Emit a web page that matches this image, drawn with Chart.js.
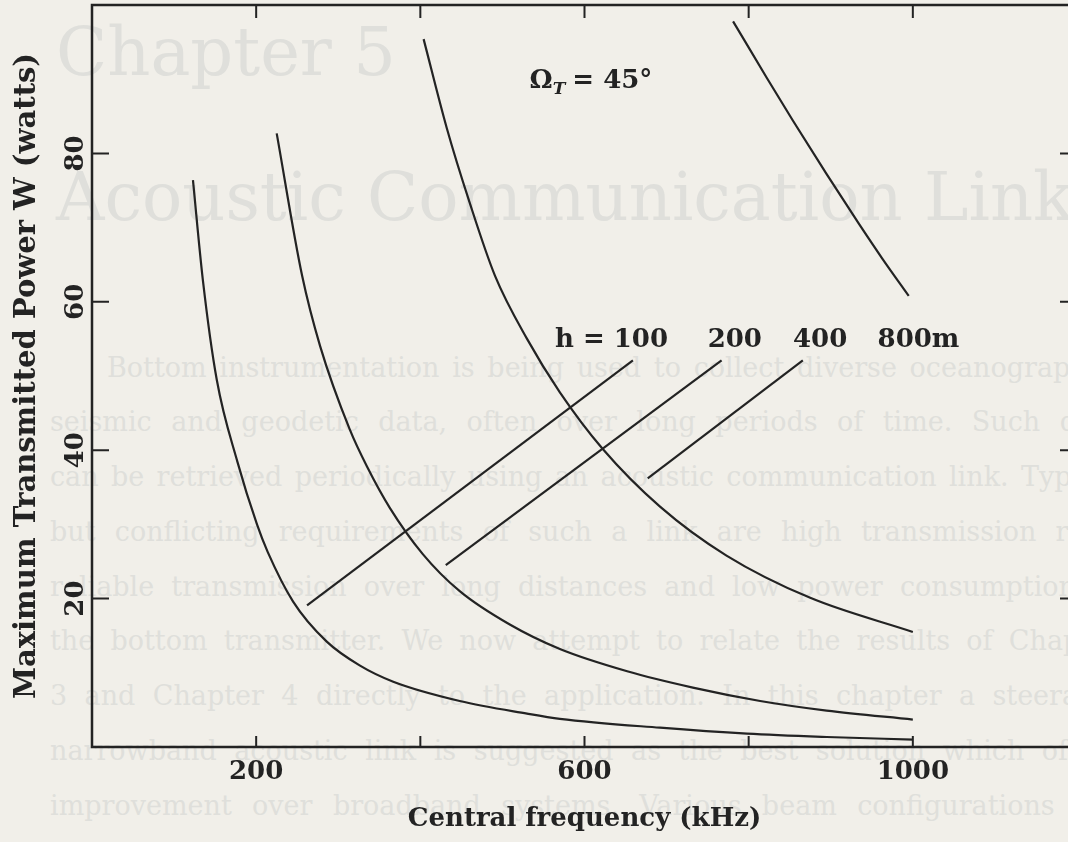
<!DOCTYPE html>
<html>
<head>
<meta charset="utf-8">
<title>Maximum transmitted power vs central frequency</title>
<script src="https://cdn.jsdelivr.net/npm/chart.js@4.4.0/dist/chart.umd.min.js"></script>
<style>
  html, body { margin: 0; padding: 0; width: 1068px; height: 842px; overflow: hidden; background: #f1efe9; }
  #wrap { position: relative; width: 1068px; height: 842px; overflow: hidden; }
  .ghost { position: absolute; color: #dfdfdb; font-family: "DejaVu Serif", serif; white-space: nowrap; line-height: 1; }
  .head { font-size: 67px; }
  .para { font-size: 27px; text-align: justify; text-align-last: justify; }
  #chart { position: absolute; left: 0; top: 0; }
</style>
</head>
<body>
<div id="wrap">
  <div id="ghost"></div>
  <canvas id="chart" width="1085" height="842"></canvas>
</div>
<script>
// power curves, one per bottom depth h (frequency in kHz, power in watts)
const freqH100 = [123, 135, 152, 177, 201, 214, 245, 286, 326, 367, 448, 530, 570, 692, 798, 895, 1000];
const powerH100 = [76.4, 63.0, 49.5, 38.5, 30.0, 26.3, 19.6, 14.2, 11.0, 8.8, 6.2, 4.5, 3.8, 2.6, 1.8, 1.35, 1.0];

const freqH200 = [225, 256, 278, 314, 335, 363, 403, 448, 509, 570, 652, 732, 814, 895, 1000];
const powerH200 = [82.7, 63.5, 54.0, 42.8, 37.8, 32.2, 26.0, 21.0, 16.5, 13.2, 10.2, 8.0, 6.2, 4.9, 3.7];

const freqH400 = [404, 432, 460, 491, 530, 570, 622, 692, 773, 875, 1000];
const powerH400 = [95.4, 83.5, 73.4, 63.5, 55.0, 47.8, 40.2, 32.4, 25.8, 20.1, 15.5];

const freqH800 = [781, 822, 854, 895, 935, 963, 995];
const powerH800 = [97.8, 90.2, 84.4, 77.2, 70.4, 65.8, 60.8];

// leader lines from the depth labels down to their curves
const leadFreq100 = [262, 659];
const leadPower100 = [19.1, 52.1];
const leadFreq200 = [431, 767];
const leadPower200 = [24.5, 52.1];
const leadFreq400 = [677, 866];
const leadPower400 = [36.2, 52.1];

const depthLabels = ['h = 100', '200', '400', '800m'];
const xTickValues = [200, 400, 600, 800, 1000];
const xTickLabels = ['200', '', '600', '', '1000'];
const yTickValues = [20, 40, 60, 80];
const yTickLabels = ['20', '40', '60', '80'];

// where the annotation text sits, in data units
const labelAt = [[564, 53.9], [750, 53.9], [854, 53.9], [957, 53.9]];
const omegaAt = [533, 88.8];

// faint text of the facing page
const headLines = [
  { text: 'Chapter 5', left: 56, base: 76 },
  { text: 'Acoustic Communication Link', left: 56, base: 221 }
];
const paraLines = [
  'Bottom instrumentation is being used to collect diverse oceanographic,',
  'seismic and geodetic data, often over long periods of time. Such data',
  'can be retrieved periodically using an acoustic communication link. Typical',
  'but conflicting requirements of such a link are high transmission rate,',
  'reliable transmission over long distances and low power consumption at',
  'the bottom transmitter. We now attempt to relate the results of Chapter',
  '3 and Chapter 4 directly to the application. In this chapter a steerable',
  'narrowband acoustic link is suggested as the best solution which offers',
  'improvement over broadband systems. Various beam configurations are'
];

const ghost = document.getElementById('ghost');
headLines.forEach(h => {
  const d = document.createElement('div');
  d.className = 'ghost head';
  d.textContent = h.text;
  d.style.left = h.left + 'px';
  d.style.top = (h.base - 0.846 * 67) + 'px';
  ghost.appendChild(d);
});
paraLines.forEach((t, i) => {
  const d = document.createElement('div');
  d.className = 'ghost para';
  d.textContent = t;
  const left = i === 0 ? 107 : 50;
  d.style.left = left + 'px';
  d.style.width = (1120 - left) + 'px';
  d.style.top = (368 + 54.75 * i - 14.5) + 'px';
  ghost.appendChild(d);
});

const ink = '#232323';
const serif = '"DejaVu Serif", serif';

function pts(xs, ys) {
  return xs.map((v, i) => ({ x: v, y: ys[i] }));
}

function curve(xs, ys) {
  return {
    data: pts(xs, ys),
    showLine: true,
    borderColor: ink,
    borderWidth: 2.2,
    pointRadius: 0,
    cubicInterpolationMode: 'monotone'
  };
}

function leader(xs, ys) {
  return {
    data: pts(xs, ys),
    showLine: true,
    borderColor: ink,
    borderWidth: 2.2,
    pointRadius: 0,
    tension: 0
  };
}

// frame, inward ticks on all four sides, and the text annotations
const frameAndNotes = {
  id: 'frameAndNotes',
  afterDatasetsDraw(chart) {
    const { ctx, chartArea: a, scales: { x, y } } = chart;
    ctx.save();
    ctx.strokeStyle = ink;
    ctx.lineWidth = 2.5;
    ctx.strokeRect(a.left, a.top, a.right - a.left, a.bottom - a.top);

    ctx.lineWidth = 2;
    ctx.beginPath();
    xTickValues.forEach(v => {
      const px = x.getPixelForValue(v);
      ctx.moveTo(px, a.bottom); ctx.lineTo(px, a.bottom - 11);
      ctx.moveTo(px, a.top); ctx.lineTo(px, a.top + 13);
    });
    yTickValues.forEach(v => {
      const py = y.getPixelForValue(v);
      ctx.moveTo(a.left, py); ctx.lineTo(a.left + 17, py);
      ctx.moveTo(a.right, py); ctx.lineTo(a.right - 17, py);
    });
    ctx.stroke();

    ctx.fillStyle = ink;
    ctx.textAlign = 'left';
    ctx.textBaseline = 'alphabetic';
    ctx.font = 'bold 26px ' + serif;
    depthLabels.forEach((t, i) => {
      ctx.fillText(t, x.getPixelForValue(labelAt[i][0]), y.getPixelForValue(labelAt[i][1]));
    });

    // Omega_T = 45 deg
    let ox = x.getPixelForValue(omegaAt[0]);
    const oy = y.getPixelForValue(omegaAt[1]);
    ctx.font = 'bold 26px ' + serif;
    ctx.fillText('\u03A9', ox, oy);
    ox += ctx.measureText('\u03A9').width;
    ctx.font = 'italic bold 17px ' + serif;
    ctx.fillText('T', ox, oy + 6);
    ox += ctx.measureText('T').width + 7;
    ctx.font = 'bold 26px ' + serif;
    ctx.fillText('= 45\u00B0', ox, oy);
    ctx.restore();
  }
};

new Chart(document.getElementById('chart'), {
  type: 'scatter',
  data: {
    datasets: [
      curve(freqH100, powerH100),
      curve(freqH200, powerH200),
      curve(freqH400, powerH400),
      curve(freqH800, powerH800),
      leader(leadFreq100, leadPower100),
      leader(leadFreq200, leadPower200),
      leader(leadFreq400, leadPower400)
    ]
  },
  options: {
    responsive: false,
    animation: false,
    devicePixelRatio: 1,
    layout: { padding: { top: 5, right: 8, left: 0, bottom: 0 } },
    plugins: {
      legend: { display: false },
      tooltip: { enabled: false }
    },
    scales: {
      x: {
        type: 'linear',
        min: 0,
        max: 1200,
        afterBuildTicks: s => { s.ticks = xTickValues.map(v => ({ value: v })); },
        afterFit: s => {
          s.height = 95;
          s.paddingLeft = 0;
          s.paddingRight = 0;
        },
        grid: { display: false, drawTicks: false },
        border: { display: false },
        ticks: {
          autoSkip: false,
          maxRotation: 0,
          padding: 10,
          color: ink,
          font: { family: serif, size: 26, weight: 'bold' },
          callback: (v, i) => xTickLabels[i]
        },
        title: {
          display: true,
          text: 'Central frequency (kHz)',
          color: ink,
          font: { family: serif, size: 26, weight: 'bold' },
          padding: { top: 0, bottom: 7 }
        }
      },
      y: {
        min: 0,
        max: 100,
        afterBuildTicks: s => { s.ticks = yTickValues.map(v => ({ value: v })); },
        afterFit: s => {
          s.width = 92;
          s.paddingTop = 0;
          s.paddingBottom = 0;
        },
        grid: { display: false, drawTicks: false },
        border: { display: false },
        ticks: {
          autoSkip: false,
          minRotation: 90,
          maxRotation: 90,
          crossAlign: 'center',
          padding: -2,
          color: ink,
          font: { family: serif, size: 26, weight: 'bold' },
          callback: (v, i) => yTickLabels[i]
        },
        title: {
          display: true,
          text: 'Maximum Transmitted Power W (watts)',
          color: ink,
          font: { family: serif, size: 29, weight: 'bold' },
          padding: { top: 10, bottom: 0 }
        }
      }
    }
  },
  plugins: [frameAndNotes]
});
</script>
</body>
</html>
